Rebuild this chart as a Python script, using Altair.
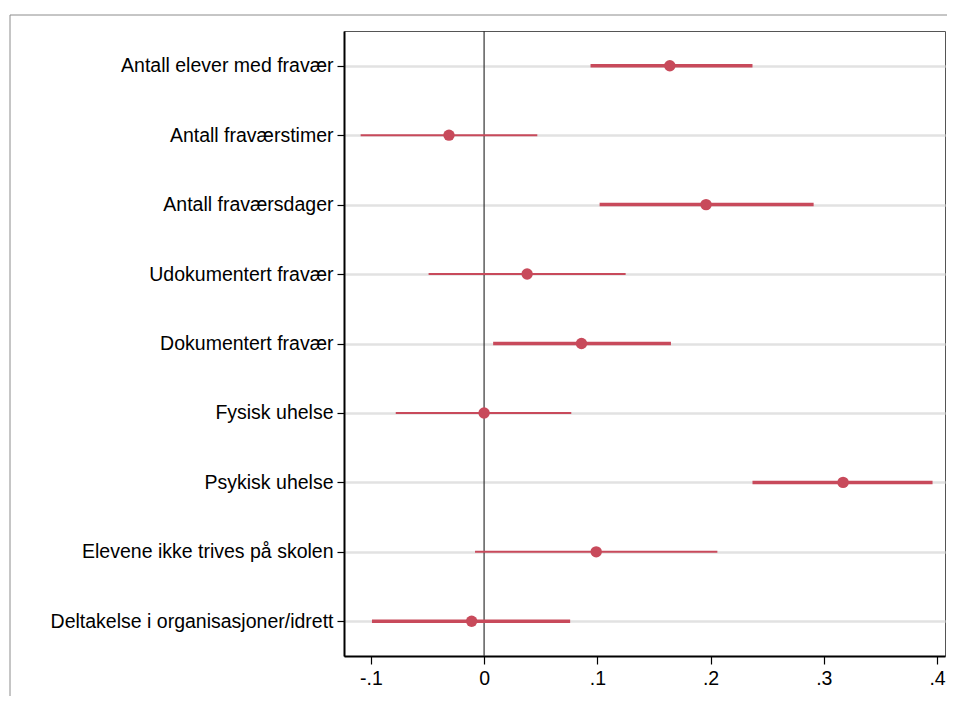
import altair as alt
import pandas as pd

categories = [
    "Antall elever med fravær",
    "Antall fraværstimer",
    "Antall fraværsdager",
    "Udokumentert fravær",
    "Dokumentert fravær",
    "Fysisk uhelse",
    "Psykisk uhelse",
    "Elevene ikke trives på skolen",
    "Deltakelse i organisasjoner/idrett",
]
estimates = [0.164, -0.031, 0.196, 0.038, 0.086, 0.000, 0.317, 0.099, -0.011]
ci_low = [0.094, -0.109, 0.102, -0.049, 0.008, -0.078, 0.237, -0.008, -0.099]
ci_high = [0.237, 0.047, 0.291, 0.125, 0.165, 0.077, 0.396, 0.206, 0.076]
weights = ["thick", "thin", "thick", "thin", "thick", "thin", "thick", "thin", "thick"]
x_ticks = [-0.1, 0.0, 0.1, 0.2, 0.3, 0.4]

df = pd.DataFrame({
    "cat": categories,
    "est": estimates,
    "lo": ci_low,
    "hi": ci_high,
    "w": weights,
})

RED = "#c84a5b"
FONT = "Liberation Sans"

xscale = alt.Scale(domain=[-0.1237, 0.4070], nice=False, zero=False)
yscale = alt.Scale(type="point", domain=categories, padding=0.5)

xaxis = alt.Axis(
    values=x_ticks,
    labelExpr="datum.value == 0 ? '0' : (datum.value < 0 ? '-' : '') + '.' + round(abs(datum.value) * 10)",
    grid=False, title=None, domainColor="black", domainWidth=2,
    tickColor="black", tickWidth=1.2, tickSize=8, labelPadding=5,
    labelFont=FONT, labelFontSize=19.5, labelColor="black",
)
yaxis = alt.Axis(
    title=None, grid=True, gridColor="#e2e2e2", gridWidth=2.5,
    domainColor="black", domainWidth=2, tickColor="black", tickWidth=1.2,
    tickSize=7, labelPadding=4, labelFont=FONT, labelFontSize=19.5,
    labelColor="black", labelLimit=400,
)

base = alt.Chart(df)

ci = base.mark_rule(color=RED).encode(
    x=alt.X("lo:Q", scale=xscale, axis=xaxis),
    x2="hi:Q",
    y=alt.Y("cat:N", scale=yscale, axis=yaxis, sort=categories),
    strokeWidth=alt.StrokeWidth("w:N", scale=alt.Scale(domain=["thick", "thin"], range=[3.5, 2]), legend=None),
)

zero = alt.Chart(pd.DataFrame({"z": [0]})).mark_rule(color="#333333", strokeWidth=1.2).encode(
    x=alt.X("z:Q", scale=xscale)
)

pts = base.mark_circle(color=RED, opacity=1, size=130).encode(
    x=alt.X("est:Q", scale=xscale),
    y=alt.Y("cat:N", scale=yscale, sort=categories),
)

frame_top = alt.Chart(pd.DataFrame({"a": [0]})).mark_rule(color="#8c8c8c", strokeWidth=1, clip=False).encode(
    x=alt.value(-334), x2=alt.value(640), y=alt.value(-16)
)
frame_left = alt.Chart(pd.DataFrame({"a": [0]})).mark_rule(color="#8c8c8c", strokeWidth=1, clip=False).encode(
    x=alt.value(-334), y=alt.value(-16), y2=alt.value(720)
)

chart = alt.layer(zero, ci, pts, frame_top, frame_left).properties(
    width=601, height=625,
    autosize=alt.AutoSizeParams(type="none"),
    padding={"left": 336, "top": 23, "right": 2, "bottom": 40},
    background="white",
).configure_view(stroke="#555555", strokeWidth=1)

chart.save("out.html", embed_options={"renderer": "svg", "actions": False})
